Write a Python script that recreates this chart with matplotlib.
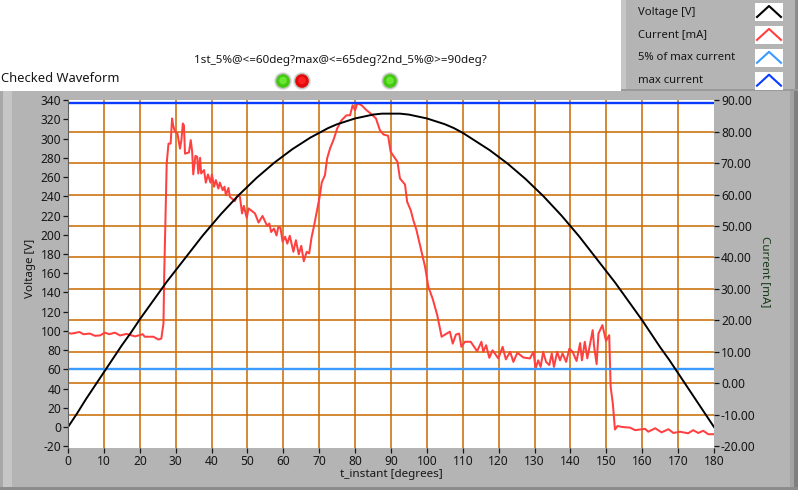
import matplotlib
matplotlib.use("Agg")
import matplotlib.pyplot as plt
from matplotlib.patches import Rectangle, Circle
from matplotlib.lines import Line2D
from matplotlib.transforms import Affine2D

plt.rcParams["font.family"] = ["Noto Sans", "DejaVu Sans"]
plt.rcParams["axes.unicode_minus"] = False

W, H = 798, 490
TEXT = "#161616"
PANEL = "#B4B4B4"
GRID = "#C86A00"

# voltage
volt_deg = [0, 2.5, 5, 7.5, 10, 12.5, 15, 17.5, 20, 22.5, 25, 27.5, 30, 32.5, 35, 37.5, 40, 42.5, 45,
            47.5, 50, 52.5, 55, 57.5, 60, 62.5, 65, 67.5, 70, 72.5, 75, 77.5, 80, 82.5, 85, 87.5, 90,
            92.5, 95, 97.5, 100, 102.5, 105, 107.5, 110, 112.5, 115, 117.5, 120, 122.5, 125, 127.5,
            130, 132.5, 135, 137.5, 140, 142.5, 145, 147.5, 150, 152.5, 155, 157.5, 160, 162.5, 165,
            167.5, 170, 172.5, 175, 177.5, 180]
volt = [0, 14, 29, 43, 57, 71, 85, 98, 112, 125, 138, 151, 163, 175, 187, 199, 210, 221, 231,
        241, 250, 259, 267, 275, 282, 289, 295, 301, 306, 311, 315, 318, 321, 323, 325, 326, 326,
        326, 325, 323, 321, 318, 315, 311, 306, 300, 294, 288, 281, 274, 266, 258, 249, 240, 230,
        220, 209, 198, 186, 174, 162, 150, 137, 124, 111, 97, 83, 70, 56, 42, 28, 14, 0]

# current
curr_deg = [0, 1, 3.2, 4.3, 6.1, 7.5, 8.9, 10.3, 11.5, 13.1, 14.5, 16.3, 18.7, 20.8, 21.4, 23.8, 25.2, 26,
            26.6, 26.8, 27.3, 27.5, 28, 28.6, 29, 29.3, 29.8, 30.5, 31.2, 31.6, 32, 32.3, 32.6, 33.7, 34.2,
            34.6, 34.9, 35.5, 36, 36.3, 36.8, 37.1, 37.9, 38.4, 39, 39.7, 40.1, 40.7, 41.2, 41.9, 42.3,
            43.1, 43.6, 44, 44.7, 45.1, 46.5, 47.2, 47.9, 48.5, 49, 49.8, 50.3, 52.1, 53.1, 54.2, 55.5,
            56.1, 56.6, 57.4, 58.1, 58.6, 59.2, 59.8, 60.5, 61.1, 61.8, 62.8, 63.5, 64.3, 65, 65.7, 66.5,
            67.2, 67.9, 68.5, 69.3, 70.2, 70.7, 71.6, 72.2, 73, 74.1, 75, 76.2, 77.6, 78.6, 79.3, 80,
            80.6, 81.8, 83.2, 84.3, 85.8, 86.9, 87.9, 89.2, 89.9, 91.8, 92.5, 93.9, 94.5, 95.5, 96.2,
            97.1, 98.3, 99.5, 100.4, 101.6, 102.9, 104.1, 105.5, 106.4, 107.2, 108.1, 109, 109.6, 110.6,
            112.2, 114, 115.2, 115.7, 116.5, 117.4, 118.3, 119.9, 121.1, 122, 123.2, 124.1, 125.2, 126.9,
            128.7, 129.7, 130.3, 131, 131.7, 132.4, 133.2, 134.1, 134.8, 135.4, 136.3, 137.1, 137.8,
            138.8, 139.7, 140.6, 141.7, 142.7, 143.2, 144, 144.7, 146.2, 146.6, 147.3, 147.8, 148.9,
            149.9, 150.8, 151.2, 151.8, 152.4, 153.1, 154.5, 156.6, 158, 160.8, 161.7, 163.6, 165.4,
            167.3, 168.7, 170.5, 172.8, 174.2, 175.6, 177, 178.4, 180]
curr = [16, 15.8, 16.3, 15.6, 15.8, 15.1, 15.2, 16.1, 15.6, 16.1, 15.2, 15.7, 14.9, 15.6, 14.8, 14.8, 13.9, 14.2,
        19, 34, 60, 69.9, 76.2, 76.2, 84.2, 82, 80, 79.4, 74.6, 77.3, 82.6, 82, 73, 73.4, 77.3,
        73.6, 66.4, 72.3, 72, 66.7, 71.7, 66.7, 67.8, 63.8, 66.4, 63.8, 66.4, 62.5, 64.6, 61.9, 63.8,
        61.4, 62.5, 59.8, 62.1, 59.3, 57.9, 59.8, 59.3, 54, 56.4, 52.6, 55.6, 54, 51.1, 53.2, 50,
        50.8, 48.1, 49.2, 47, 49.7, 49.4, 45, 46.6, 44.4, 46.9, 41.8, 45.5, 41, 43.7, 38.8, 41.8,
        41.3, 46.6, 49.7, 54.5, 59.8, 63.8, 66.2, 71.5, 74.6, 77.8, 81, 83.6, 85.2, 85.2, 88.4, 86.8,
        89, 88.4, 86.8, 85.8, 84.2, 80.5, 79.1, 78.7, 73.6, 70.4, 65.1, 63.2, 57.7, 55, 51.9,
        48.7, 42.8, 37, 30.7, 26.9, 21.6, 14.8, 15.8, 16.4, 12.6, 15.5, 15.8, 11.6, 13.2,
        13.2, 10.2, 13.2, 10, 12.1, 8.1, 10.5, 7.9, 11.6, 7.6, 10, 6.8, 9.7, 8.2,
        7.9, 10, 4.7, 7.3, 5.2, 10, 6.8, 5.8, 9.5, 5.2, 10, 7.3, 9.5,
        6.8, 11, 10, 7.1, 12.8, 7.3, 13.2, 7.9, 16.9, 11.6, 6.1, 15.8, 18.5,
        13.5, 15.3, -1.1, -6.4, -14.7, -13.6, -13.9, -14.1, -14.9, -14.5, -15.4, -14.3, -15.6,
        -14.6, -15.8, -15.4, -15.9, -14.9, -15.8, -15.1, -16.2, -16.2]

max_current = 89.2
five_pct_current = 4.46

volt_ticks = list(range(-20, 341, 20))
curr_ticks = list(range(-20, 91, 10))
deg_ticks = list(range(0, 181, 10))

legend_names = ["Voltage [V]", "Current [mA]", "5% of max current", "max current"]
legend_colors = ["#000000", "#FF4040", "#3C9BFF", "#0A3CFF"]

fig = plt.figure(figsize=(W / 100, H / 100), dpi=100, facecolor="white")
# pixel coordinates, y going down, for the panel furniture
px = Affine2D().scale(1 / W, -1 / H).translate(0, 1) + fig.transFigure


def box(x, y, w, h, color, **kw):
    fig.add_artist(Rectangle((x, y), w, h, transform=px, facecolor=color, edgecolor="none", **kw))


def label(x, y, s, **kw):
    kw.setdefault("color", TEXT)
    kw.setdefault("fontsize", 8.6)
    kw.setdefault("va", "center")
    fig.text(x / W, 1 - y / H, s, **kw)


def led(x, y, color, light):
    fig.add_artist(Circle((x, y), 9, transform=px, facecolor="#E4E6E4", edgecolor="none"))
    fig.add_artist(Circle((x, y), 8, transform=px, facecolor="#BFC4BF", edgecolor="none"))
    fig.add_artist(Circle((x, y), 6.8, transform=px, facecolor=color, edgecolor="none"))
    fig.add_artist(Circle((x, y - 0.5), 3.8, transform=px, facecolor=light, edgecolor="none"))


# lower panel
box(0, 91, W, H - 91, PANEL)
box(0, 91, 3, H - 91, "#A8A8A8")
box(3, 91, 9, H - 91, "#C6C6C6")
box(790, 91, 4, H - 91, "#A4A4A4")
box(794, 91, 4, H - 91, "#808080")
box(0, 487, W, 3, "#8C8C8C")

# legend panel
box(623, 0, 175, 90, PANEL)
box(621, 0, 5, 90, "#C6C6C6")
box(795, 0, 3, 90, "#8C8C8C")
box(621, 89, 177, 2, "#9A9A9A")

for i, (name, c) in enumerate(zip(legend_names, legend_colors)):
    top = 3 + i * 22.9
    label(638, top + 9, name, fontsize=8.1)
    box(755, top, 28, 18.5, "white")
    fig.add_artist(Line2D([757, 769, 781], [top + 14, top + 3, top + 14], transform=px, color=c, lw=1.5))

label(1, 79, "Checked Waveform", fontsize=9.3)
label(340, 61, "1st_5%@<=60deg?max@<=65deg?2nd_5%@>=90deg?", fontsize=8.4, ha="center")
led(283, 81, "#44C814", "#68E830")
led(302, 81, "#E00A0A", "#FF2020")
led(390, 81, "#44C814", "#68E830")

ax = fig.add_axes([68 / W, (H - 447.7) / H, 646 / W, 348 / H])
ax2 = ax.twinx()
ax.set_zorder(2)
ax.patch.set_visible(False)
ax2.set_zorder(1)
ax2.patch.set_visible(True)
ax2.patch.set_facecolor("white")

ax2.plot(curr_deg, curr, color="#FF4040", lw=1.45, zorder=3)
ax2.axhline(five_pct_current, color="#3C9BFF", lw=1.7, zorder=4)
ax2.axhline(max_current, color="#0A3CFF", lw=1.7, zorder=4)
ax.plot(volt_deg, volt, color="black", lw=1.4)

ax.set_xlim(0, 180)
ax.set_ylim(-21.5, 340.5)
ax2.set_ylim(-20.48, 90.16)

ax.set_xticks(deg_ticks)
ax.set_yticks(volt_ticks)
ax2.set_yticks(curr_ticks)
ax2.set_yticklabels([f"{v:.2f}" for v in curr_ticks])

# grid belongs to the lower axes so the black trace stays on top of it
ax2.xaxis.set_visible(True)
ax2.set_xticks(deg_ticks)
ax2.set_axisbelow(True)
ax2.grid(True, axis="both", color=GRID, lw=1.1)

# no grid lines on the plot border
for gl in (ax2.get_xgridlines()[0], ax2.get_xgridlines()[-1],
           ax2.get_ygridlines()[0], ax2.get_ygridlines()[-1]):
    gl.set_visible(False)

for a in (ax, ax2):
    a.tick_params(colors=TEXT, labelsize=8.6, length=3.5, width=0.9, pad=1.5)
    for s in a.spines.values():
        s.set_visible(False)
ax2.tick_params(axis="x", bottom=False, labelbottom=False)
ax.spines["left"].set_visible(True)
ax.spines["left"].set_color("#606060")

ax.set_xlabel("t_instant [degrees]", fontsize=8.4, color=TEXT, labelpad=1)
label(31, 268, "Voltage [V]", fontsize=8.4, rotation=90, ha="center")
label(765, 272, "Current [mA]", fontsize=8.4, color="#163A16", rotation=270, ha="center")

fig.savefig("out.png", dpi=100)
